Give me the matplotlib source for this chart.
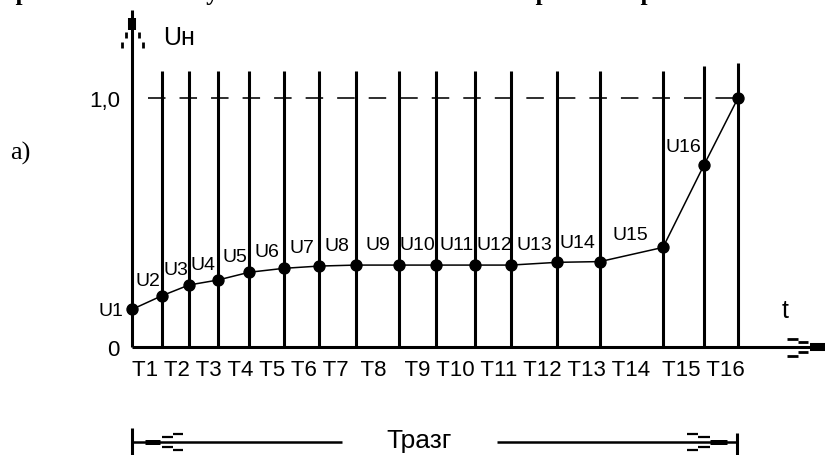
import matplotlib
matplotlib.use('Agg')
import matplotlib.pyplot as plt

plt.rcParams['font.family'] = ['Liberation Sans', 'DejaVu Sans']
plt.rcParams['lines.scale_dashes'] = False

# moments T1..T16 and the end of run-up (arbitrary time units)
t_points = [0, 0.30, 0.57, 0.86, 1.17, 1.52, 1.87, 2.24, 2.67, 3.04,
            3.43, 3.79, 4.25, 4.68, 5.31, 5.72, 6.06]
# relative voltage Uн at those moments
u_values = [0.151, 0.206, 0.249, 0.269, 0.300, 0.316, 0.325, 0.329, 0.329,
            0.329, 0.329, 0.329, 0.340, 0.343, 0.400, 0.731, 1.0]
u_labels = ['U%d' % i for i in range(1, 17)]
t_labels = ['T%d' % i for i in range(1, 17)]
# heights of the vertical time lines
line_tops = [1.108] * 15 + [1.128, 1.14]

# spaces between the T labels, as typed in the drawing
t_gaps = [1, 1, 1, 1, 1, 1, 2, 3, 1, 1, 1, 1, 1, 2, 1]
# label shifts in pixels (dx to the right edge, dy to the baseline)
u_shift = [(-2, 10), (-1, 10), (-2, 10), (-2, 10), (-5, 11), (-5, 13),
           (-7, 14), (-9, 15), (-1, 15), (-1, 15), (1, 15), (-5, 12),
           (-5, 14), (-15, 7), (-3, 13)]

W, H = 825, 455
DX = 0.01          # data units per pixel, horizontal
DY = 1 / 249.0     # data units per pixel, vertical
K = 'black'

fig = plt.figure(figsize=(W / 100, H / 100), dpi=100)
ax = fig.add_axes([132 / W, (H - 347) / H, 606 / W, 249 / H])
ax.set_xlim(0, 6.06)
ax.set_ylim(0, 1)
ax.axis('off')


def seg(x, y, lw, **kw):
    ax.plot(x, y, color=K, lw=lw, solid_capstyle='butt', clip_on=False, **kw)


# axes with feathered arrow heads
seg([0, 0], [0, 337 * DY], 2.2)
seg([0, 825 * DX - 1.32], [0, 0], 2.2)
seg([0, 0], [317 * DY, 329 * DY], 5.8)
for sx, y0 in [(6.5, 309), (10.5, 299)]:
    for s in (-1, 1):
        seg([s * sx * DX] * 2, [y0 * DY, (y0 + 6) * DY], 2.0)
xe = 6.93
seg([xe - 0.15, xe], [0, 0], 5.8)
for x0, x1, dy in [(6.55, 6.66, 8.5), (6.66, 6.76, 5)]:
    for s in (-1, 1):
        seg([x0, x1], [s * dy * DY] * 2, 2.0)

# time lines
ax.vlines(t_points[1:], 0, line_tops[1:], colors=K, lw=2.2, clip_on=False)

# nominal level
ax.plot([0.157, t_points[-1]], [1, 1], color=K, lw=1.15,
        ls=(0, (12.6, 10.1)), clip_on=False)

# voltage curve
ax.plot(t_points, u_values, color=K, lw=1.1, marker='o', ms=7.9,
        clip_on=False, zorder=5)

# U labels
ax.text(t_points[0] - 0.09, u_values[0] - 7 * DY, u_labels[0],
        ha='right', va='baseline', fontsize=14)
for k in range(1, 16):
    dx, dy = u_shift[k - 1]
    ax.text(t_points[k] + dx * DX, u_values[k] + dy * DY, u_labels[k],
            ha='right', va='baseline', fontsize=14)

# T labels typed as one line
t_line = t_labels[0]
for g, lab in zip(t_gaps, t_labels[1:]):
    t_line += ' ' * g + lab
ax.text(0, -29 * DY, t_line, ha='left', va='baseline', fontsize=16)

ax.text(-0.12, -9 * DY + 1, '1,0', ha='right', va='baseline', fontsize=16)
ax.text(-0.12, -9 * DY, '0', ha='right', va='baseline', fontsize=16)
ax.text(0.31, 302 * DY, 'Uн', ha='left', va='baseline', fontsize=18)
ax.text(6.497, 29 * DY, 't', ha='left', va='baseline', fontsize=18)

# run-up interval
yd = -95 * DY
seg([0, 0], [-81 * DY, -108 * DY], 2.2)
seg([6.047, 6.047], [-86 * DY, -108 * DY], 2.2)
seg([0, 2.10], [yd, yd], 1.8)
seg([3.65, 6.047], [yd, yd], 1.8)
seg([0.13, 0.28], [yd, yd], 3.6)
seg([5.78, 5.95], [yd, yd], 3.6)
for x0, x1, dy in [(0.30, 0.41, 5.3), (0.41, 0.51, 8.3),
                   (5.66, 5.78, 5.3), (5.55, 5.66, 8.3)]:
    for s in (-1, 1):
        seg([x0, x1], [yd + s * dy * DY] * 2, 1.6)
ax.text(2.87, -101 * DY, 'Тразг', ha='center', va='baseline', fontsize=19)

# caption and item letter
fig.text(-4 / W, 1.0, 'При включении и установке номинального напряжения разгона',
         ha='left', va='baseline', fontsize=18, fontweight='bold',
         family=['Liberation Serif', 'DejaVu Serif'])
fig.text(10 / W, 1 - 160 / H, 'а)', ha='left', va='baseline', fontsize=19,
         family=['Liberation Serif', 'DejaVu Serif'])

fig.savefig('out.png', dpi=100)
